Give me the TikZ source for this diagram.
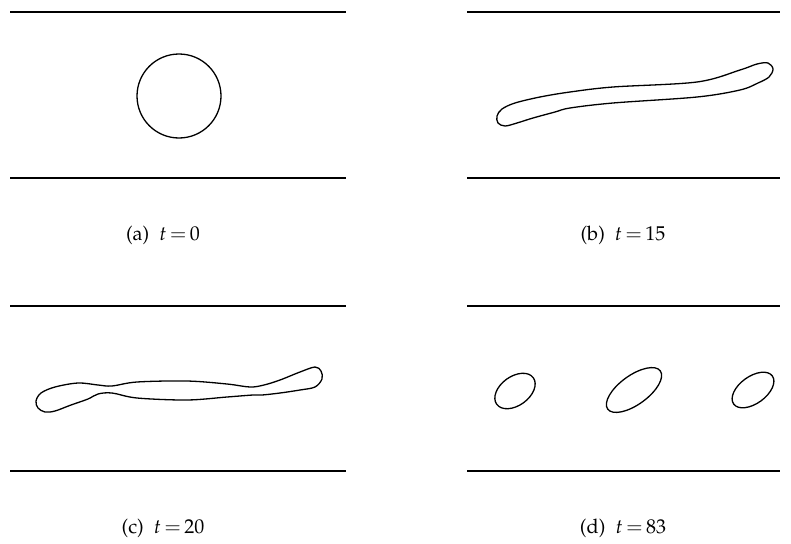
\documentclass[tikz,border=0pt]{standalone}
\usepackage[T1]{fontenc}
\usepackage{mathpazo}
\begin{document}
\begin{tikzpicture}[x=1pt,y=-1pt,
  wall/.style={line width=1.3pt},
  drop/.style={line width=1.3pt},
  captext/.style={font=\fontsize{20}{24}\selectfont, inner sep=0pt}]
\useasboundingbox (0,0) rectangle (791,543);
% panel a
\draw[wall] (10,12) -- (346,12);
\draw[wall] (10,178) -- (346,178);
\draw[drop] (179,96) circle (42);
\node[captext] (la) at (163,235) {(a)\enspace $t\,{=}\,0$};
% panel b
\draw[wall] (467,12) -- (780,12);
\draw[wall] (467,178) -- (780,178);
\draw[drop] plot[smooth cycle, tension=0.55] coordinates {
 (497,116) (502,109) (515,103) (540,97) (570,92) (613,87) (697,82)
 (740,70) (757,64) (768,63) (773,69) (769,77) (758,83) (740,90)
 (697,97) (613,103) (570,108) (555,112) (533,118) (517,123) (505,126) (498,123)};
\node[captext] (lb) at (623,235) {(b)\enspace $t\,{=}\,15$};
% panel c
\draw[wall] (10,306) -- (346,306);
\draw[wall] (10,471) -- (346,471);
\draw[drop] plot[smooth cycle, tension=0.55] coordinates {
 (36,401) (41,393) (55,387) (78,383) (98,385) (112,386) (137,382) (187,381)
 (227,384) (250,387) (264,385) (280,380) (300,372) (315,367) (321,371) (322,379)
 (315,387) (300,390) (280,393) (262,395) (253,395) (227,397) (187,400) (137,398)
 (112,393) (98,394) (88,399) (71,405) (55,411) (45,412) (38,408)};
\node[captext] (lc) at (163,528) {(c)\enspace $t\,{=}\,20$};
% panel d
\draw[wall] (467,306) -- (780,306);
\draw[wall] (467,471) -- (780,471);
\draw[drop, rotate around={36:(515,391)}] (515,391) ellipse (22.6 and 14.5);
\draw[drop, rotate around={36:(634,390)}] (634,390) ellipse (32.5 and 14.5);
\draw[drop, rotate around={36:(753,390)}] (753,390) ellipse (23.9 and 13.5);
\node[captext] (ld) at (623,528) {(d)\enspace $t\,{=}\,83$};
\end{tikzpicture}
\end{document}
